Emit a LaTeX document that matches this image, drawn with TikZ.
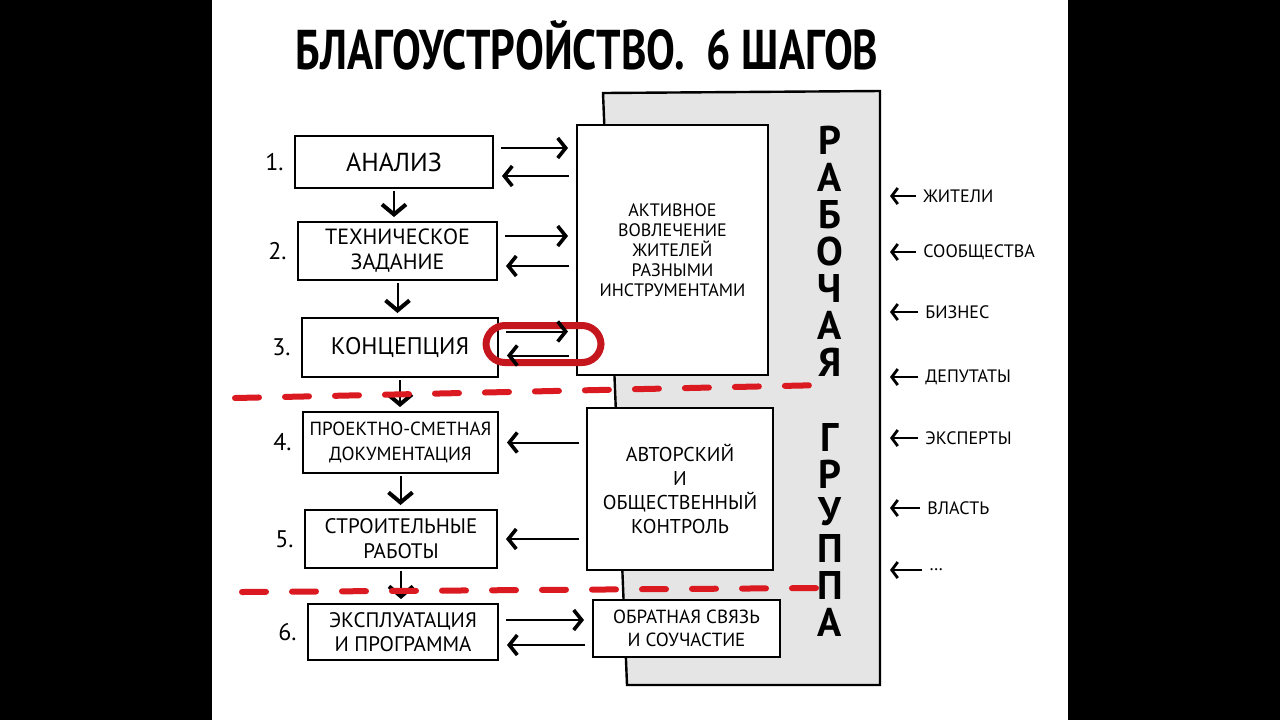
\documentclass[tikz,border=0pt]{standalone}
\usepackage{fontspec}
\setmainfont{PT Sans}
\usepackage{graphicx}
\usetikzlibrary{arrows.meta,positioning}
\definecolor{panelgr}{RGB}{229,229,229}
\definecolor{redmark}{RGB}{218,26,32}
\definecolor{pillred}{RGB}{196,22,28}

\tikzset{
  stepbox/.style={draw, fill=white, line width=1pt, align=center, inner sep=2pt},
  sidebox/.style={stepbox, font=\fontsize{10}{12}\selectfont},
  num/.style={inner sep=1pt, font=\fontsize{12}{12}\selectfont},
  link/.style={line width=1pt, -{Straight Barb[length=4pt,width=10pt,line width=1.8pt]},
               shorten <=3.5pt, shorten >=4pt},
  down/.style={line width=1pt, -{Straight Barb[length=5pt,width=12pt,line width=2pt]},
               shorten <=1pt, shorten >=2pt},
  lst/.style={anchor=west, inner sep=1.5pt, font=\fontsize{9}{9}\selectfont},
  inarr/.style={line width=0.9pt, -{Straight Barb[length=3pt,width=8pt,line width=1.4pt]},
                shorten <=2pt, shorten >=5pt},
  reddash/.style={redmark, line width=3pt, line cap=round, dash pattern=on 12pt off 13pt},
}

\begin{document}
\begin{tikzpicture}[x=0.5pt, y=-0.5pt]
\useasboundingbox (0,0) rectangle (1280,720);
\fill[black] (0,0) rectangle (1280,720);
\fill[white] (212,0) rectangle (1068,720);

% title
\node (ttl) at (587,45) {\fontsize{28}{30}\selectfont\bfseries
  \scalebox{0.77}[1]{БЛАГОУСТРОЙСТВО.\ \ 6 ШАГОВ}};

% working group panel
\filldraw[fill=panelgr, line width=1.2pt] (603,93) -- (880,91) -- (880,685) -- (627,685) -- cycle;
\coordinate (pe) at (880,400);

% six steps
\node[stepbox, minimum width=99pt, minimum height=26pt, font=\fontsize{13}{14}\selectfont]
  (an1) at (394,162) {АНАЛИЗ};
\node[stepbox, minimum width=99.5pt, minimum height=29pt, font=\fontsize{11}{12.5}\selectfont]
  (tz2) at (397.5,251) {ТЕХНИЧЕСКОЕ\\ЗАДАНИЕ};
\node[stepbox, minimum width=98pt, minimum height=29.5pt, font=\fontsize{12}{13}\selectfont]
  (kc3) at (400,347.5) {КОНЦЕПЦИЯ};
\node[stepbox, minimum width=97.5pt, minimum height=30.5pt, font=\fontsize{9.5}{12.5}\selectfont]
  (psd4) at (400.5,442.5) {ПРОЕКТНО-СМЕТНАЯ\\ДОКУМЕНТАЦИЯ};
\node[stepbox, minimum width=96pt, minimum height=29pt, font=\fontsize{10.5}{12.5}\selectfont]
  (sr5) at (401,539) {СТРОИТЕЛЬНЫЕ\\РАБОТЫ};
\node[stepbox, minimum width=95pt, minimum height=28pt, font=\fontsize{10.5}{12}\selectfont]
  (ex6) at (403,632) {ЭКСПЛУАТАЦИЯ\\И ПРОГРАММА};

\node[num, left=4pt of an1] {1.};
\node[num, left=4pt of tz2] {2.};
\node[num, left=4pt of kc3] {3.};
\node[num, left=4pt of psd4] {4.};
\node[num, left=4pt of sr5] {5.};
\node[num, left=4pt of ex6] {6.};

% participation boxes
\node[sidebox, minimum width=95.5pt, minimum height=125pt, font=\fontsize{9}{10}\selectfont]
  (akt) at (672.5,250) {АКТИВНОЕ\\ВОВЛЕЧЕНИЕ\\ЖИТЕЛЕЙ\\РАЗНЫМИ\\ИНСТРУМЕНТАМИ};
\node[sidebox, minimum width=93pt, minimum height=81pt]
  (avt) at (680,489) {АВТОРСКИЙ\\И\\ОБЩЕСТВЕННЫЙ\\КОНТРОЛЬ};
\node[sidebox, minimum width=93.5pt, minimum height=28.5pt, font=\fontsize{9.5}{11.5}\selectfont]
  (obr) at (686.5,628.5) {ОБРАТНАЯ СВЯЗЬ\\И СОУЧАСТИЕ};

% highlight on step 3
\draw[pillred, line width=3.5pt, rounded corners=9.5pt]
  ([shift={(-6.5pt,11pt)}]kc3.east) rectangle ([shift={(51pt,-7.5pt)}]kc3.east);

% flow
\draw[down] (an1.south) -- (an1.south |- tz2.north);
\draw[down] (tz2.south) -- (tz2.south |- kc3.north);
\draw[down] (kc3.south) -- (kc3.south |- psd4.north);
\draw[down] (psd4.south) -- (psd4.south |- sr5.north);
\draw[down] (sr5.south) -- (sr5.south |- ex6.north);

% exchange with residents
\draw[link] ([yshift=7pt]an1.east) -- ([yshift=7pt]an1.east -| akt.west);
\draw[link] ([yshift=-7pt]an1.east -| akt.west) -- ([yshift=-7pt]an1.east);
\draw[link] ([yshift=7.5pt]tz2.east) -- ([yshift=7.5pt]tz2.east -| akt.west);
\draw[link] ([yshift=-7.5pt]tz2.east -| akt.west) -- ([yshift=-7.5pt]tz2.east);
\draw[link] ([yshift=8pt]kc3.east) -- ([yshift=8pt]kc3.east -| akt.west);
\draw[link] ([yshift=-4pt]kc3.east -| akt.west) -- ([yshift=-4pt]kc3.east);
\draw[link] (psd4.east -| avt.west) -- (psd4.east);
\draw[link] (sr5.east -| avt.west) -- (sr5.east);
\draw[link] ([yshift=6pt]ex6.east) -- ([yshift=6pt]ex6.east -| obr.west);
\draw[link] ([yshift=-6.5pt]ex6.east -| obr.west) -- ([yshift=-6.5pt]ex6.east);

% working group
\node[inner sep=0pt, align=center, font=\fontsize{20}{18.5}\selectfont\bfseries]
  (rg) at (830,381) {Р\\А\\Б\\О\\Ч\\А\\Я\\[19pt]Г\\Р\\У\\П\\П\\А};

\node[lst] (zh) at (920,196) {ЖИТЕЛИ};
\node[lst] (so) at (920,252) {СООБЩЕСТВА};
\node[lst] (bz) at (922,312) {БИЗНЕС};
\node[lst] (dp) at (922,377) {ДЕПУТАТЫ};
\node[lst] (ek) at (922,438) {ЭКСПЕРТЫ};
\node[lst] (vl) at (924,508) {ВЛАСТЬ};
\node[lst] (et) at (926,570) {\dots};
\foreach \w in {zh,so,bz,dp,ek,vl,et}
  \draw[inarr] (\w.west) -- (\w.west -| pe);

% phase borders
\draw[reddash] (235,398) -- (825,385);
\draw[reddash] (242,592) -- (820,588);
\end{tikzpicture}
\end{document}
